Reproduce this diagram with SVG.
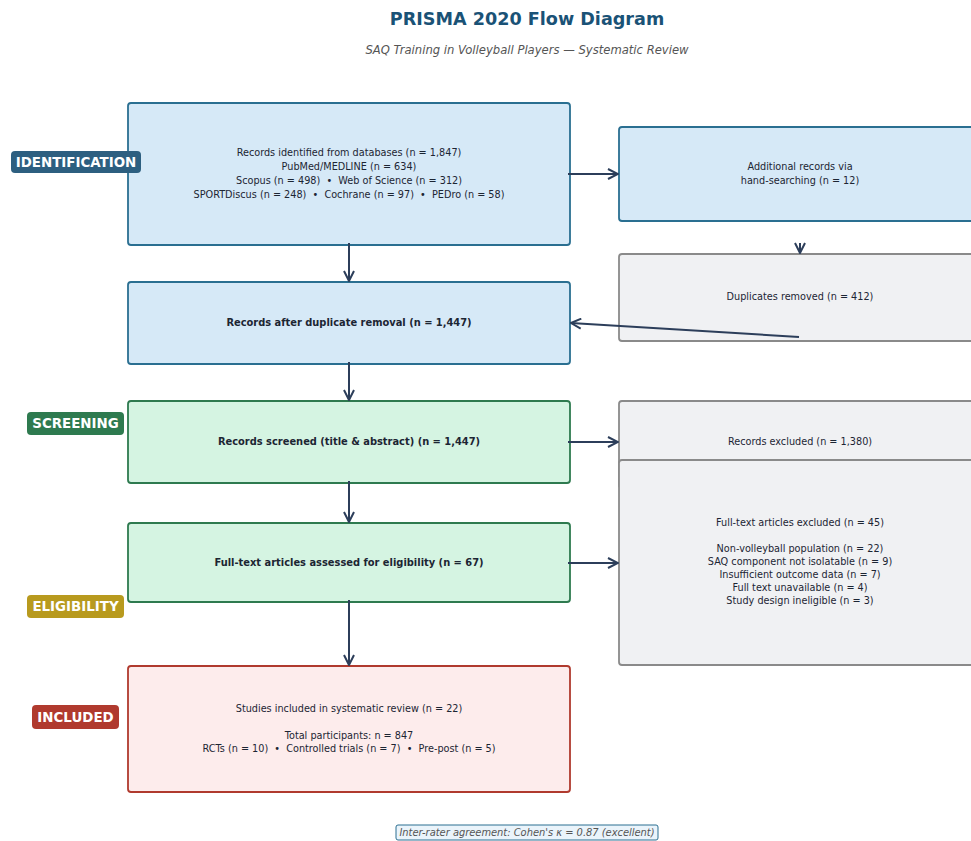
<svg xmlns="http://www.w3.org/2000/svg" width="971" height="841" viewBox="0 0 971 841">
<defs>
<marker id="ah" viewBox="0 0 12 12" refX="11" refY="6" markerWidth="12" markerHeight="12" markerUnits="userSpaceOnUse" orient="auto">
<path d="M1,1 L11,6 L1,11" fill="none" stroke="#2c3e5a" stroke-width="2" stroke-linejoin="miter"/>
</marker>
<style>
text{font-family:"DejaVu Sans","Liberation Sans",sans-serif;fill:#1c2533;text-anchor:middle;white-space:pre;}
.t{font-size:9.7px;}
.b{font-size:9.9px;font-weight:bold;}
.blue{fill:#d6e9f7;stroke:#2a6f91;stroke-width:1.8;}
.grey{fill:#f0f1f3;stroke:#8a8a8a;stroke-width:1.8;}
.green{fill:#d5f4e2;stroke:#2e7a4f;stroke-width:1.8;}
.red{fill:#fdecec;stroke:#b03a2e;stroke-width:1.8;}
.lab{font-size:13.4px;font-weight:bold;fill:#ffffff;}
.c{stroke:#2c3e5a;stroke-width:2;fill:none;marker-end:url(#ah);}
</style>
</defs>
<rect width="971" height="841" fill="#ffffff"/>
<text x="527" y="25" style="font-size:17.6px;font-weight:bold;fill:#1a5276">PRISMA 2020 Flow Diagram</text>
<text x="527" y="54" style="font-size:11.6px;font-style:italic;fill:#555555">SAQ Training in Volleyball Players — Systematic Review</text>

<g id="box-identified">
<rect class="blue" x="128" y="103" width="442" height="142" rx="3"/>
<text class="t" x="349" y="156">Records identified from databases (n = 1,847)</text>
<text class="t" x="349" y="170">PubMed/MEDLINE (n = 634)</text>
<text class="t" x="349" y="184">Scopus (n = 498)  •  Web of Science (n = 312)</text>
<text class="t" x="349" y="198">SPORTDiscus (n = 248)  •  Cochrane (n = 97)  •  PEDro (n = 58)</text>
</g>
<g id="box-handsearch">
<rect class="blue" x="619" y="127" width="360" height="94" rx="3"/>
<text class="t" x="800" y="170">Additional records via</text>
<text class="t" x="800" y="184">hand-searching (n = 12)</text>
</g>
<g id="box-duplicates">
<rect class="grey" x="619" y="254" width="360" height="87" rx="3"/>
<text class="t" x="800" y="300">Duplicates removed (n = 412)</text>
</g>
<g id="box-after-dup">
<rect class="blue" x="128" y="282" width="442" height="82" rx="3"/>
<text class="b" x="349" y="326">Records after duplicate removal (n = 1,447)</text>
</g>
<g id="box-screened">
<rect class="green" x="128" y="401" width="442" height="82" rx="3"/>
<text class="b" x="349" y="445">Records screened (title &amp; abstract) (n = 1,447)</text>
</g>
<g id="box-excluded">
<rect class="grey" x="619" y="401" width="360" height="87" rx="3"/>
<text class="t" x="800" y="445">Records excluded (n = 1,380)</text>
</g>
<g id="box-ft-excluded">
<rect class="grey" x="619" y="460" width="360" height="205" rx="3"/>
<text class="t" x="800" y="526">Full-text articles excluded (n = 45)</text>
<text class="t" x="800" y="552">Non-volleyball population (n = 22)</text>
<text class="t" x="800" y="565">SAQ component not isolatable (n = 9)</text>
<text class="t" x="800" y="578">Insufficient outcome data (n = 7)</text>
<text class="t" x="800" y="591">Full text unavailable (n = 4)</text>
<text class="t" x="800" y="604">Study design ineligible (n = 3)</text>
</g>
<g id="box-fulltext">
<rect class="green" x="128" y="523" width="442" height="79" rx="3"/>
<text class="b" x="349" y="566">Full-text articles assessed for eligibility (n = 67)</text>
</g>
<g id="box-included">
<rect class="red" x="128" y="666" width="442" height="126" rx="3"/>
<text class="t" x="349" y="712">Studies included in systematic review (n = 22)</text>
<text class="t" x="349" y="739">Total participants: n = 847</text>
<text class="t" x="349" y="752">RCTs (n = 10)  •  Controlled trials (n = 7)  •  Pre-post (n = 5)</text>
</g>

<g id="label-identification">
<rect x="11" y="151" width="130" height="22" rx="4" fill="#2d5f80"/>
<text class="lab" x="76" y="166.5">IDENTIFICATION</text>
</g>
<g id="label-screening">
<rect x="27" y="412" width="97" height="23" rx="4" fill="#2e7a4f"/>
<text class="lab" x="75.5" y="428">SCREENING</text>
</g>
<g id="label-eligibility">
<rect x="27" y="595" width="97" height="23" rx="4" fill="#b89a1e"/>
<text class="lab" x="75.5" y="611">ELIGIBILITY</text>
</g>
<g id="label-included">
<rect x="32" y="705" width="87" height="24" rx="4" fill="#b03a2e"/>
<text class="lab" x="75.5" y="721.5">INCLUDED</text>
</g>

<g id="connectors">
<line class="c" x1="568" y1="174" x2="618" y2="174"/>
<line class="c" x1="349" y1="243" x2="349" y2="281"/>
<line class="c" x1="800" y1="243" x2="800" y2="253"/>
<line class="c" x1="799" y1="337" x2="571" y2="323"/>
<line class="c" x1="349" y1="362" x2="349" y2="400"/>
<line class="c" x1="568" y1="442" x2="618" y2="442"/>
<line class="c" x1="349" y1="481" x2="349" y2="522"/>
<line class="c" x1="568" y1="563" x2="618" y2="563"/>
<line class="c" x1="349" y1="600" x2="349" y2="665"/>
</g>

<g id="footer">
<rect x="396" y="825" width="262" height="15" rx="2" fill="#eaf4fb" stroke="#2a6f91" stroke-width="1"/>
<text x="527" y="836" style="font-size:9.9px;font-style:italic;fill:#555555">Inter-rater agreement: Cohen's κ = 0.87 (excellent)</text>
</g>
</svg>
